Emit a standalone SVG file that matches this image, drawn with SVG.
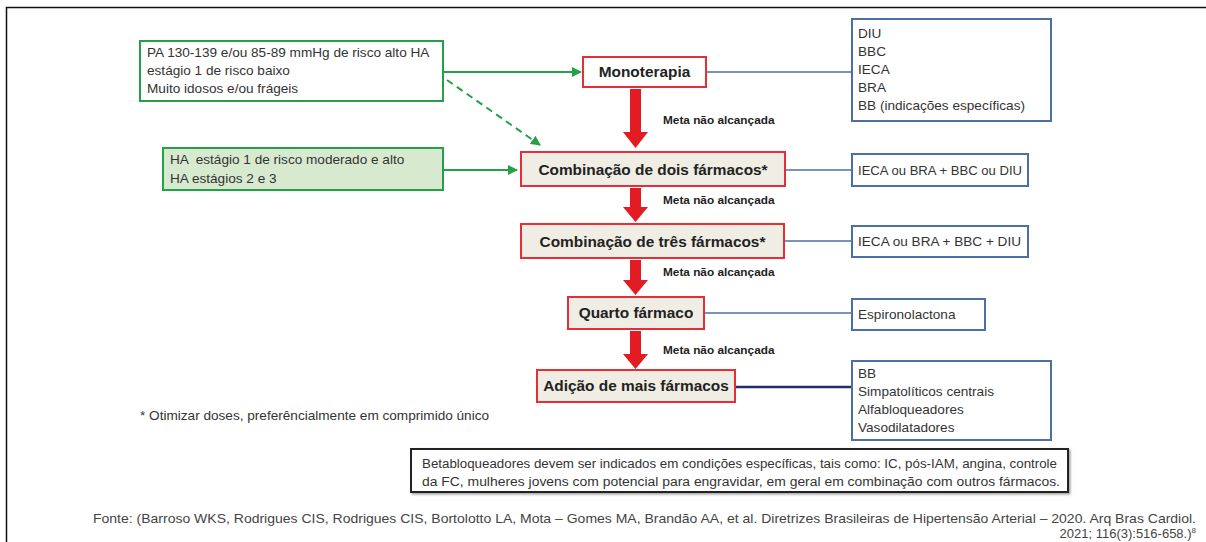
<svg xmlns="http://www.w3.org/2000/svg" width="1206" height="542" viewBox="0 0 1206 542">
  <defs>
    <style>
      text { font-family: "Liberation Sans", Arial, sans-serif; fill: #333; }
      .t13 { font-size: 13.6px; }
      .step { font-size: 15.4px; font-weight: bold; fill: #222; text-anchor: middle; }
      .meta { font-size: 11.8px; font-weight: bold; fill: #222; }
      .stepbox { fill: #efede4; stroke: #e52f38; stroke-width: 2; }
      .monobox { fill: #ffffff; stroke: #e52f38; stroke-width: 2; }
      .greenbox { fill: #ffffff; stroke: #24a048; stroke-width: 2; }
      .greenfill { fill: #d7eacf; stroke: #24a048; stroke-width: 2; }
      .bluebox { fill: #ffffff; stroke: #4a70a6; stroke-width: 2; }
      .blueline { stroke: #4a70a6; stroke-width: 1.6; fill: none; }
      .greenline { stroke: #24a048; stroke-width: 2; fill: none; }
      .redarrow { fill: #e31b23; }
      .note { font-size: 12.5px; }
      .src { font-size: 13px; fill: #444; }
    </style>
    <marker id="gHead" viewBox="0 0 10 10" refX="9" refY="5" markerWidth="5" markerHeight="5" orient="auto" markerUnits="strokeWidth">
      <path d="M0,0 L10,5 L0,10 Z" fill="#24a048"/>
    </marker>
    <filter id="shadow" x="-5%" y="-20%" width="110%" height="150%">
      <feDropShadow dx="1.5" dy="1.5" stdDeviation="0.8" flood-color="#888" flood-opacity="0.8"/>
    </filter>
  </defs>

  <!-- outer frame (top and left edges) -->
  <path d="M6.5,542 L6.5,7.5 L1206,7.5" fill="none" stroke="#111" stroke-width="1.5"/>

  <!-- connectors -->
  <g id="connectors">
    <line class="greenline" x1="443" y1="72" x2="581" y2="72" marker-end="url(#gHead)"/>
    <line class="greenline" x1="447" y1="80" x2="540" y2="145" stroke-dasharray="7,5" marker-end="url(#gHead)"/>
    <line class="greenline" x1="443" y1="170" x2="517" y2="170" marker-end="url(#gHead)"/>

    <line class="blueline" x1="706" y1="72" x2="852" y2="72"/>
    <line class="blueline" x1="785" y1="170" x2="852" y2="170"/>
    <line class="blueline" x1="784" y1="241" x2="852" y2="241"/>
    <line class="blueline" x1="704" y1="313" x2="852" y2="313"/>
    <line x1="735" y1="387" x2="852" y2="387" stroke="#1e2d6b" stroke-width="2.5"/>

    <!-- red "goal not reached" arrows -->
    <path class="redarrow" d="M630,89 L641,89 L641,132 L648,132 L635.5,148 L623,132 L630,132 Z"/>
    <path class="redarrow" d="M630,188 L641,188 L641,207 L648,207 L635.5,222 L623,207 L630,207 Z"/>
    <path class="redarrow" d="M630,260 L641,260 L641,280 L648,280 L635.5,295 L623,280 L630,280 Z"/>
    <path class="redarrow" d="M630,331 L641,331 L641,354 L648,354 L635.5,369 L623,354 L630,354 Z"/>
    <text class="meta" x="663" y="124">Meta não alcançada</text>
    <text class="meta" x="663" y="204">Meta não alcançada</text>
    <text class="meta" x="663" y="276">Meta não alcançada</text>
    <text class="meta" x="663" y="354">Meta não alcançada</text>
  </g>

  <!-- entry criteria -->
  <g id="criteria-low">
    <rect class="greenbox" x="140" y="41" width="303" height="60"/>
    <text class="t13" x="147" y="57">PA 130-139 e/ou 85-89 mmHg de risco alto HA</text>
    <text class="t13" x="147" y="75">estágio 1 de risco baixo</text>
    <text class="t13" x="147" y="93">Muito idosos e/ou frágeis</text>
  </g>
  <g id="criteria-high">
    <rect class="greenfill" x="163" y="148" width="280" height="42"/>
    <text class="t13" x="170" y="164" style="white-space:pre">HA  estágio 1 de risco moderado e alto</text>
    <text class="t13" x="170" y="183">HA estágios 2 e 3</text>
  </g>

  <!-- treatment steps -->
  <g id="step-mono">
    <rect class="monobox" x="583" y="57" width="123" height="30"/>
    <text class="step" x="644.5" y="77">Monoterapia</text>
  </g>
  <g id="step-two">
    <rect class="stepbox" x="521" y="152" width="264" height="34"/>
    <text class="step" x="653" y="175">Combinação de dois fármacos*</text>
  </g>
  <g id="step-three">
    <rect class="stepbox" x="521" y="224" width="263" height="34"/>
    <text class="step" x="652.5" y="247">Combinação de três fármacos*</text>
  </g>
  <g id="step-four">
    <rect class="stepbox" x="568" y="297" width="136" height="32"/>
    <text class="step" x="636" y="318">Quarto fármaco</text>
  </g>
  <g id="step-more">
    <rect class="stepbox" x="537" y="370" width="198" height="32"/>
    <text class="step" x="636" y="391">Adição de mais fármacos</text>
  </g>

  <!-- drug options -->
  <g id="drugs-mono">
    <rect class="bluebox" x="852" y="19" width="199" height="102"/>
    <text class="t13" x="858" y="38">DIU</text>
    <text class="t13" x="858" y="56">BBC</text>
    <text class="t13" x="858" y="74">IECA</text>
    <text class="t13" x="858" y="92">BRA</text>
    <text class="t13" x="858" y="110">BB (indicações específicas)</text>
  </g>
  <g id="drugs-two">
    <rect class="bluebox" x="852" y="154" width="176" height="32"/>
    <text class="t13" x="858" y="175" textLength="164" lengthAdjust="spacingAndGlyphs">IECA ou BRA + BBC ou DIU</text>
  </g>
  <g id="drugs-three">
    <rect class="bluebox" x="852" y="226" width="176" height="31"/>
    <text class="t13" x="858" y="246" textLength="163" lengthAdjust="spacingAndGlyphs">IECA ou BRA + BBC + DIU</text>
  </g>
  <g id="drugs-four">
    <rect class="bluebox" x="852" y="299" width="133" height="31"/>
    <text class="t13" x="858" y="319">Espironolactona</text>
  </g>
  <g id="drugs-more">
    <rect class="bluebox" x="852" y="361" width="199" height="79"/>
    <text class="t13" x="858" y="378">BB</text>
    <text class="t13" x="858" y="396">Simpatolíticos centrais</text>
    <text class="t13" x="858" y="414">Alfabloqueadores</text>
    <text class="t13" x="858" y="432">Vasodilatadores</text>
  </g>

  <!-- footnote -->
  <text class="t13" x="140" y="420">* Otimizar doses, preferêncialmente em comprimido único</text>

  <!-- beta-blocker note -->
  <g id="note-bb">
    <rect x="411" y="449" width="657" height="43" fill="#fff" stroke="#222" stroke-width="2" filter="url(#shadow)"/>
    <text class="note" x="422" y="468" textLength="635" lengthAdjust="spacingAndGlyphs">Betabloqueadores devem ser indicados em condições específicas, tais como: IC, pós-IAM, angina, controle</text>
    <text class="note" x="422" y="486" textLength="638" lengthAdjust="spacingAndGlyphs">da FC, mulheres jovens com potencial para engravidar, em geral em combinação com outros fármacos.</text>
  </g>

  <!-- source -->
  <text class="src" x="93" y="523" textLength="1103" lengthAdjust="spacingAndGlyphs">Fonte: (Barroso WKS, Rodrigues CIS, Rodrigues CIS, Bortolotto LA, Mota – Gomes MA, Brandão AA, et al. Diretrizes Brasileiras de Hipertensão Arterial – 2020. Arq Bras Cardiol.</text>
  <text class="src" x="1196" y="538" text-anchor="end">2021; 116(3):516-658.)<tspan font-size="8" dy="-5">8</tspan></text>
</svg>
